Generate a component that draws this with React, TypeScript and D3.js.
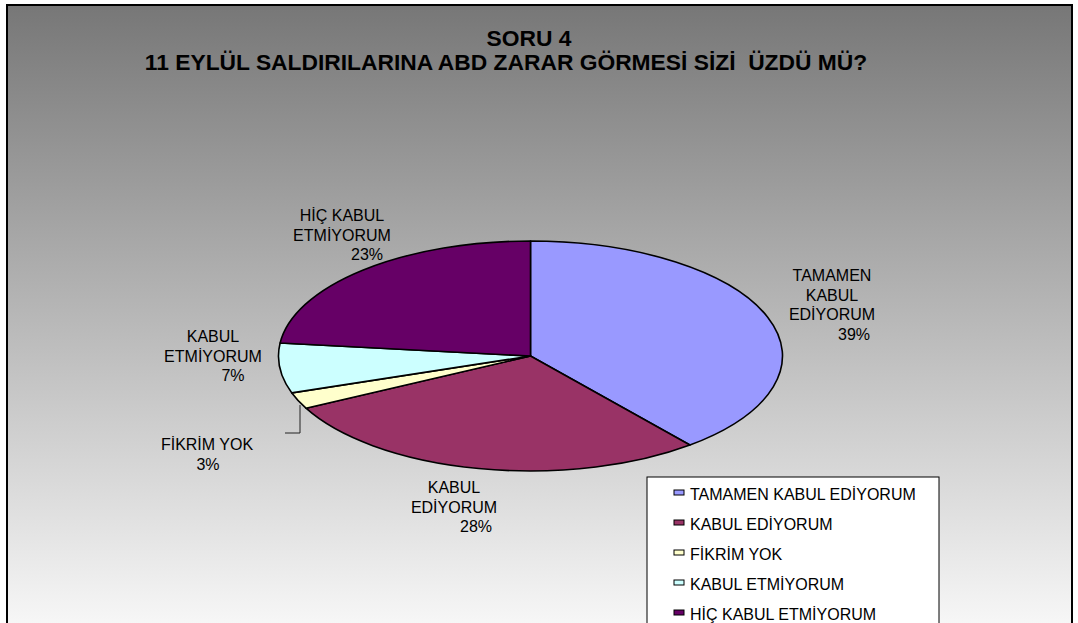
import React from "react";
import * as d3 from "d3";

// ---- data ----
const categories = [
  "TAMAMEN KABUL EDİYORUM",
  "KABUL EDİYORUM",
  "FİKRİM YOK",
  "KABUL ETMİYORUM",
  "HİÇ KABUL ETMİYORUM",
];
// slice sizes
const values = [39.1, 28.4, 2.3, 7.0, 23.2];
// percentages as printed on the chart
const pctLabels = ["39%", "28%", "3%", "7%", "23%"];
// wrapped label lines as printed
const labelLines = [
  ["TAMAMEN", "KABUL", "EDİYORUM"],
  ["KABUL", "EDİYORUM"],
  ["FİKRİM YOK"],
  ["KABUL", "ETMİYORUM"],
  ["HİÇ KABUL", "ETMİYORUM"],
];
const colors = ["#9999FF", "#993366", "#FFFFCC", "#CCFFFF", "#660066"];
const titleLines = ["SORU 4", "11 EYLÜL SALDIRILARINA ABD ZARAR GÖRMESİ SİZİ  ÜZDÜ MÜ?"];

// ---- layout ----
const W = 1078;
const H = 623;
const cx = 530.5;
const cy = 356;
const rx = 252;
const ry = 115;
const font = "'Liberation Sans', Arial, sans-serif";
const lineH = 19.5;
const labelPos = [
  { x: 832, y: 281, px: 854 },
  { x: 454, y: 493, px: 476 },
  { x: 207, y: 450, px: 208 },
  { x: 213, y: 342, px: 233 },
  { x: 342, y: 221, px: 367 },
];

export default function App() {
  const pie = d3
    .pie<number>()
    .sort(null)
    .value((d) => d)
    .startAngle(0)
    .endAngle(2 * Math.PI);
  const arcs = pie(values);
  const arc = d3.arc<d3.PieArcDatum<number>>().innerRadius(0).outerRadius(rx);

  const legendX = 647;
  const legendY = 477;
  const legendRow = 30;

  return (
    <svg
      width={W}
      height={H}
      style={{ position: "absolute", left: 0, top: 0, display: "block" }}
    >
      <defs>
        <linearGradient id="bg" x1="0" y1="0" x2="0" y2="1">
          <stop offset="0" stopColor="#777777" />
          <stop offset="1" stopColor="#fbfbfb" />
        </linearGradient>
      </defs>
      <rect x={0} y={0} width={W} height={H} fill="#ffffff" />
      <rect x={7} y={5} width={1065} height={640} fill="url(#bg)" stroke="#000" strokeWidth={2} />

      {/* title */}
      <text x={529} y={46} textAnchor="middle" fontFamily={font} fontWeight="bold" fontSize={22.8} fill="#000" style={{ whiteSpace: "pre" }}>
        {titleLines[0]}
      </text>
      <text x={506} y={70} textAnchor="middle" fontFamily={font} fontWeight="bold" fontSize={22.8} fill="#000" style={{ whiteSpace: "pre" }}>
        {titleLines[1]}
      </text>

      {/* pie */}
      <g transform={`translate(${cx},${cy}) scale(1,${ry / rx})`}>
        {arcs.map((a, i) => (
          <path
            key={i}
            d={arc(a) || ""}
            fill={colors[i]}
            stroke="#000"
            strokeWidth={1.6}
            strokeLinejoin="round"
            vectorEffect="non-scaling-stroke"
          />
        ))}
      </g>

      {/* leader line for small slice */}
      <polyline points="300,405 300,433 285,433" fill="none" stroke="#222" strokeWidth={1} />

      {/* data labels */}
      {labelPos.map((p, i) => (
        <g key={i} fontFamily={font} fontSize={16} fill="#000" textAnchor="middle">
          {labelLines[i].map((ln, j) => (
            <text key={j} x={p.x} y={p.y + j * lineH}>
              {ln}
            </text>
          ))}
          <text x={p.px} y={p.y + labelLines[i].length * lineH}>
            {pctLabels[i]}
          </text>
        </g>
      ))}

      {/* legend */}
      <rect x={legendX} y={legendY} width={292} height={200} fill="#ffffff" stroke="#000" strokeWidth={1} />
      {categories.map((c, i) => {
        const by = legendY + 23 + i * legendRow;
        return (
          <g key={c}>
            <rect x={674} y={by - 10} width={10} height={5} fill={colors[i]} stroke="#000" strokeWidth={1} />
            <text x={690} y={by} fontFamily={font} fontSize={16} fill="#000">
              {c}
            </text>
          </g>
        );
      })}
    </svg>
  );
}
